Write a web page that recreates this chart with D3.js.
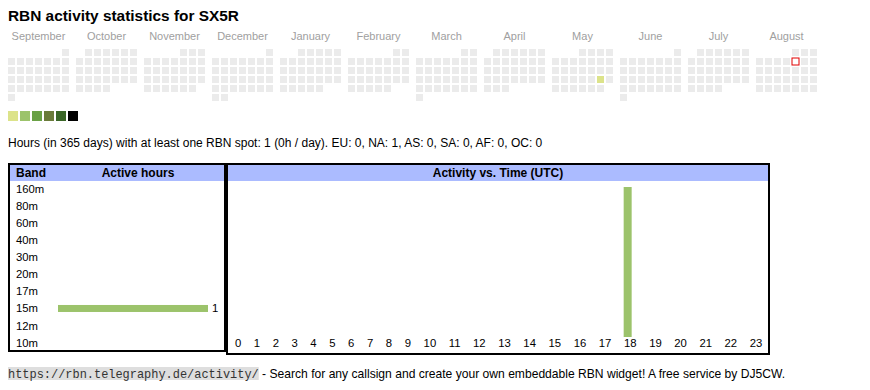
<!DOCTYPE html>
<html>
<head>
<meta charset="utf-8">
<script src="https://cdn.jsdelivr.net/npm/d3@7"></script>
<style>
  body { margin: 0; background: #fff; }
  text { font-family: Arial, "Liberation Sans", sans-serif; }
</style>
</head>
<body>
<svg id="rbn"></svg>
<script>
var width = 870,
    height = 390;

// data
var callsign = "SX5R";
var monthNames = ["September", "October", "November", "December", "January", "February",
                  "March", "April", "May", "June", "July", "August"];
var activeDays = ["2025-05-24"];
var activeDayHours = [1];
var today = "2025-08-08";
var levelColors = ["#dce38a", "#9cc36b", "#6aa146", "#6a7b3a", "#3a6627", "#000000"];
var bands = ["160m", "80m", "60m", "40m", "30m", "20m", "17m", "15m", "12m", "10m"];
var bandHours = [0, 0, 0, 0, 0, 0, 0, 1, 0, 0];
var hours = ["0","1","2","3","4","5","6","7","8","9","10","11","12","13","14","15","16","17","18","19","20","21","22","23"];
var hourCounts = [0,0,0,0,0,0,0,0,0,0,0,0,0,0,0,0,0,0,1,0,0,0,0,0];
var summary = "Hours (in 365 days) with at least one RBN spot: 1 (0h / day). EU: 0, NA: 1, AS: 0, SA: 0, AF: 0, OC: 0";

var svg = d3.select("#rbn")
    .attr("width", width)
    .attr("height", height);

svg.append("text")
    .attr("x", 8).attr("y", 21)
    .style("font-size", "15.4px").style("font-weight", "bold")
    .text("RBN activity statistics for " + callsign);

// calendar
var fmt = d3.timeFormat("%Y-%m-%d");
var months = d3.timeMonths(new Date(2024, 8, 1), new Date(2025, 8, 1));
var activeMap = {};
activeDays.forEach(function(d, i) { activeMap[d] = activeDayHours[i]; });

var monthX = d3.scaleBand().domain(d3.range(months.length)).range([8, 8 + 68 * 12]).paddingInner(0);
var cal = svg.append("g");

months.forEach(function(m, mi) {
    var x0 = monthX(mi);
    cal.append("text")
        .attr("x", x0 + 30.5).attr("y", 39.5)
        .attr("text-anchor", "middle")
        .style("font-size", "11px").style("fill", "#a0a0a0")
        .text(monthNames[mi]);
    var days = d3.timeDays(m, d3.timeMonth.offset(m, 1));
    var g = cal.append("g");
    g.selectAll("rect")
        .data(days)
        .enter()
        .append("rect")
            .attr("x", function(d) { return x0 + ((d.getDay() + 6) % 7) * 9; })
            .attr("y", function(d) { return 49 + d3.timeMonday.count(d3.timeMonday.floor(m), d) * 9; })
            .attr("width", 7)
            .attr("height", 7)
            .style("fill", function(d) {
                var h = activeMap[fmt(d)];
                if (h) return levelColors[0];
                if (fmt(d) == today) return "#fff";
                return "#ebebeb";
            })
            .style("stroke", function(d) { return fmt(d) == today ? "#e00000" : "none"; })
            .style("stroke-width", 1);
});

// legend
svg.append("g").selectAll("rect")
    .data(levelColors)
    .enter()
    .append("rect")
        .attr("x", function(d, i) { return 8 + i * 12; })
        .attr("y", 111)
        .attr("width", 10).attr("height", 10)
        .style("fill", function(d) { return d; });

svg.append("text")
    .attr("x", 8).attr("y", 146.5)
    .style("font-size", "12px")
    .text(summary);

// band table
var left = svg.append("g");
left.append("rect")
    .attr("x", 10).attr("y", 165).attr("width", 214).attr("height", 16)
    .style("fill", "#abbbff");
left.append("rect")
    .attr("x", 9).attr("y", 164).attr("width", 216).attr("height", 187)
    .style("fill", "none").style("stroke", "#000").style("stroke-width", 2);
left.append("text").attr("x", 16).attr("y", 177)
    .style("font-size", "12px").style("font-weight", "bold").text("Band");
left.append("text").attr("x", 138).attr("y", 177).attr("text-anchor", "middle")
    .style("font-size", "12px").style("font-weight", "bold").text("Active hours");

var bandY = d3.scalePoint().domain(bands).range([188.7, 342.7]);
var bandW = d3.scaleLinear().domain([0, d3.max(bandHours)]).range([0, 150]);

left.selectAll(".bandlabel")
    .data(bands)
    .enter()
    .append("text")
        .attr("class", "bandlabel")
        .attr("x", 16)
        .attr("y", function(d) { return bandY(d) + 4; })
        .style("font-size", "11.3px")
        .text(function(d) { return d; });

var bandData = bands.map(function(b, i) { return {band: b, v: bandHours[i]}; })
    .filter(function(d) { return d.v > 0; });

left.selectAll(".bandbar")
    .data(bandData)
    .enter()
    .append("rect")
        .attr("class", "bandbar")
        .attr("x", 58)
        .attr("y", function(d) { return bandY(d.band) - 3.5; })
        .attr("width", function(d) { return bandW(d.v); })
        .attr("height", 7)
        .style("fill", levelColors[1]);

left.selectAll(".bandval")
    .data(bandData)
    .enter()
    .append("text")
        .attr("class", "bandval")
        .attr("x", function(d) { return 58 + bandW(d.v) + 4; })
        .attr("y", function(d) { return bandY(d.band) + 4; })
        .style("font-size", "11.3px")
        .text(function(d) { return d.v; });

// time table
var right = svg.append("g");
right.append("rect")
    .attr("x", 228).attr("y", 165).attr("width", 540).attr("height", 16)
    .style("fill", "#abbbff");
right.append("rect")
    .attr("x", 227).attr("y", 164).attr("width", 542).attr("height", 190)
    .style("fill", "none").style("stroke", "#000").style("stroke-width", 2);
right.append("text").attr("x", 498).attr("y", 177).attr("text-anchor", "middle")
    .style("font-size", "12px").style("font-weight", "bold").text("Activity vs. Time (UTC)");

// column widths follow label widths, like an auto-width table
var hourLabels = right.selectAll(".hourlabel")
    .data(hours)
    .enter()
    .append("text")
        .attr("class", "hourlabel")
        .attr("y", 347.3)
        .attr("text-anchor", "middle")
        .style("font-size", "11.3px")
        .text(function(d) { return d; });

var lens = [];
hourLabels.each(function() { lens.push(this.getComputedTextLength()); });
var pad = (540 - d3.sum(lens)) / hours.length;
var centers = [], acc = 228;
lens.forEach(function(l) { centers.push(acc + (l + pad) / 2); acc += l + pad; });
var hourX = d3.scaleOrdinal().domain(hours).range(centers);

hourLabels.attr("x", function(d) { return hourX(d) + 0.6; });

var hourY = d3.scaleLinear().domain([0, d3.max(hourCounts)]).range([337, 187]);

right.selectAll(".hourbar")
    .data(hours.map(function(h, i) { return {hour: h, v: hourCounts[i]}; })
        .filter(function(d) { return d.v > 0; }))
    .enter()
    .append("rect")
        .attr("class", "hourbar")
        .attr("x", function(d) { return hourX(d.hour) - 6; })
        .attr("y", function(d) { return hourY(d.v); })
        .attr("width", 8)
        .attr("height", function(d) { return hourY(0) - hourY(d.v); })
        .style("fill", levelColors[1]);

// footer
var foot = svg.append("g");
var url = foot.append("text")
    .attr("x", 8).attr("y", 377.5)
    .style("font-family", "'Liberation Mono', 'DejaVu Sans Mono', monospace")
    .style("font-size", "11.95px").style("fill", "#333")
    .text("https://rbn.telegraphy.de/activity/");
var urlW = url.node().getComputedTextLength();
foot.insert("rect", "text")
    .attr("x", 8).attr("y", 367).attr("width", urlW).attr("height", 13)
    .style("fill", "#dedede");
foot.append("text")
    .attr("x", 8 + urlW).attr("y", 377.5)
    .style("font-size", "12.1px")
    .attr("xml:space", "preserve")
    .text(" - Search for any callsign and create your own embeddable RBN widget! A free service by DJ5CW.");
</script>
</body>
</html>
